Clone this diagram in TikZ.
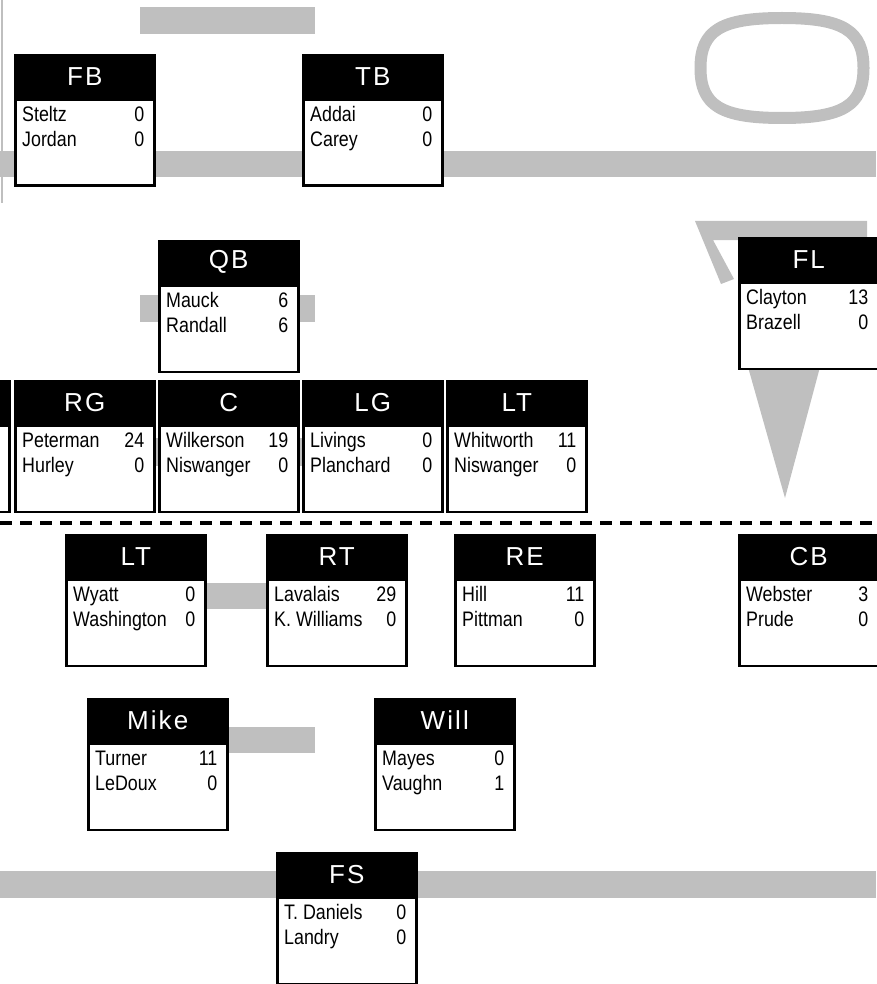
\documentclass[tikz,border=0pt]{standalone}
\usepackage{fontspec}
\setmainfont{Liberation Sans}
\newfontfamily\rosterfont[FakeStretch=0.85]{Liberation Sans}
\newfontfamily\slotfont[LetterSpace=8]{Liberation Sans}
\usetikzlibrary{positioning}

\definecolor{fieldgray}{RGB}{191,191,191}

\tikzset{
  slothead/.style={draw=black, fill=black, line width=2.5pt, minimum width=139pt,
    minimum height=42pt, inner sep=0pt, text=white, font=\slotfont\fontsize{26}{30}\selectfont},
  slotbody/.style={draw=black, fill=white, line width=2.5pt, minimum width=139pt,
    minimum height=86pt, inner sep=0pt},
  player/.style={inner sep=0pt, font=\rosterfont\fontsize{21}{25}\selectfont},
  fieldbar/.style={fill=fieldgray, draw=none},
}

% name, x, y, position, first, number, second, number
\newcommand{\depthslot}[8]{%
  \node[slothead, anchor=north west] (#1) at (#2,#3) {#4};
  \node[slotbody, below=0pt of #1] (#1body) {};
  \node[player, anchor=base west] (#1a) at ([xshift=8pt,yshift=-23pt]#1body.north west) {#5};
  \node[player, anchor=base east] (#1an) at ([xshift=-11pt,yshift=-23pt]#1body.north east) {#6};
  \node[player, anchor=base west] (#1b) at ([xshift=8pt,yshift=-48pt]#1body.north west) {#7};
  \node[player, anchor=base east] (#1bn) at ([xshift=-11pt,yshift=-48pt]#1body.north east) {#8};
}

\begin{document}
\begin{tikzpicture}[x=1pt, y=-1pt]
\useasboundingbox (0,0) rectangle (876,984);

% gray shapes behind
\fill[fieldbar] (140,7) rectangle (315,34);
\draw[fieldgray, line width=2pt] (2,0) -- (2,203);
\fill[fieldbar] (0,151) rectangle (876,177);
\draw[fieldgray, line width=12pt] (863.5,68) .. controls (863.5,30.5) and (843.1,18) .. (782,18)
  .. controls (720.9,18) and (700.5,30.5) .. (700.5,68)
  .. controls (700.5,105.5) and (720.9,118) .. (782,118)
  .. controls (843.1,118) and (863.5,105.5) .. (863.5,68) -- cycle;
\fill[fieldbar] (140,295) rectangle (315,322);
\fill[fieldbar] (140,438) rectangle (315,466);
\fill[fieldbar] (695,221) -- (867,221) -- (867,240) -- (713,240) -- (734,279) -- (721,284) -- cycle;
\fill[fieldbar] (748,367) -- (820,367) -- (785,498) -- cycle;
\fill[fieldbar] (205,583) rectangle (266,609);
\fill[fieldbar] (227,727) rectangle (315,753);
\fill[fieldbar] (0,871) rectangle (876,898);

% offense
\depthslot{fb}{14}{54}{FB}{Steltz}{0}{Jordan}{0}
\depthslot{tb}{302}{54}{TB}{Addai}{0}{Carey}{0}
\depthslot{qb}{158}{240}{QB}{Mauck}{6}{Randall}{6}
\depthslot{fl}{738}{237}{FL}{Clayton}{13}{Brazell}{0}
\node[slothead, anchor=north west] (rt) at (-131,380) {};
\node[slotbody, below=0pt of rt] (rtbody) {};
\depthslot{rg}{14}{380}{RG}{Peterman}{24}{Hurley}{0}
\depthslot{c}{158}{380}{C}{Wilkerson}{19}{Niswanger}{0}
\depthslot{lg}{302}{380}{LG}{Livings}{0}{Planchard}{0}
\depthslot{lt}{446}{380}{LT}{Whitworth}{11}{Niswanger}{0}

% line of scrimmage
\coordinate (scrimW) at (0,523);
\coordinate (scrimE) at (876,523);
\draw[line width=3.5pt, dash pattern=on 12pt off 8pt] (scrimW) -- (scrimE);

% defense
\depthslot{dlt}{65}{534}{LT}{Wyatt}{0}{Washington}{0}
\depthslot{drt}{266}{534}{RT}{Lavalais}{29}{K. Williams}{0}
\depthslot{re}{454}{534}{RE}{Hill}{11}{Pittman}{0}
\depthslot{cb}{738}{534}{CB}{Webster}{3}{Prude}{0}
\depthslot{mike}{87}{698}{Mike}{Turner}{11}{LeDoux}{0}
\depthslot{will}{374}{698}{Will}{Mayes}{0}{Vaughn}{1}
\depthslot{fs}{276}{852}{FS}{T. Daniels}{0}{Landry}{0}

\end{tikzpicture}
\end{document}
